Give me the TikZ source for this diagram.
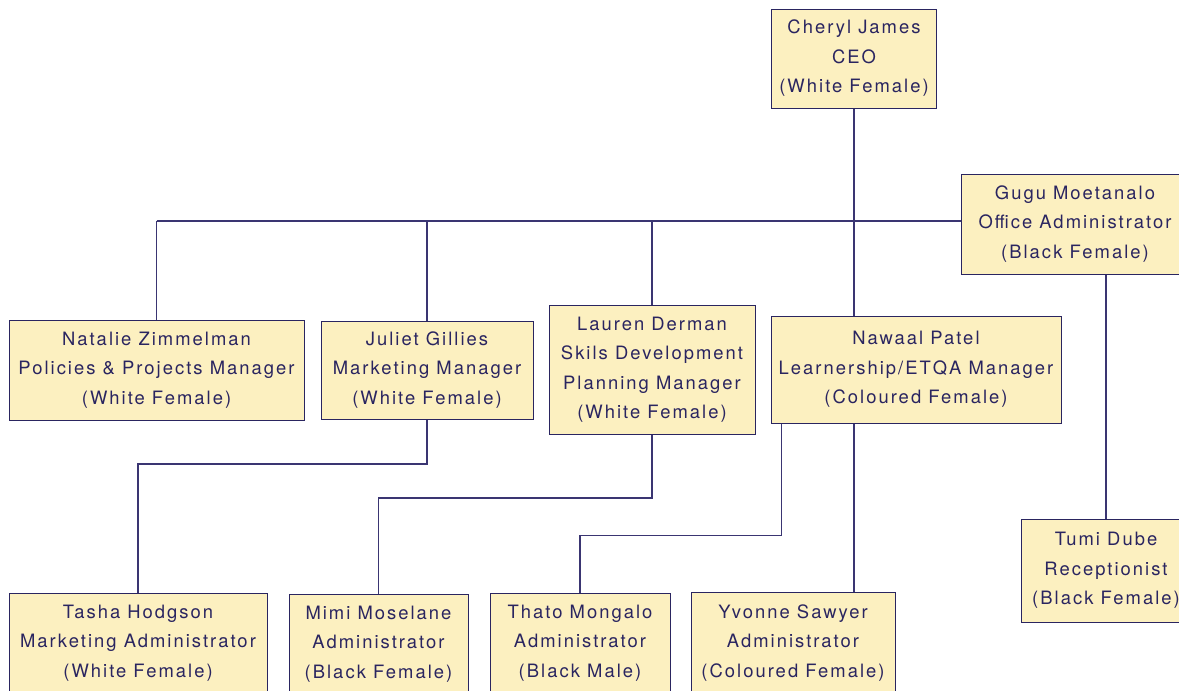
\documentclass[tikz,border=0pt]{standalone}
\usepackage{fontspec}
\setmainfont[LetterSpace=11]{TeX Gyre Heros}
\definecolor{boxfill}{HTML}{FCF0C0}
\definecolor{navy}{HTML}{2A2560}
\definecolor{linec}{HTML}{3A3572}
\begin{document}
\begin{tikzpicture}[x=1pt,y=-1pt,
  person/.style={draw=navy,fill=boxfill,line width=1pt,text=navy,align=center,
    inner sep=0pt,font=\fontsize{18.4}{29.5}\selectfont},
  conn/.style={draw=linec,line width=1.1pt}]
\useasboundingbox (0,0) rectangle (1179,691);
\node[person,minimum width=165,minimum height=99] (ceo) at (854,58.5) {Cheryl James\\CEO\\(White Female)};
\node[person,minimum width=228,minimum height=100] (gugu) at (1075,224) {Gugu Moetanalo\\Office Administrator\\(Black Female)};
\node[person,minimum width=295,minimum height=100] (nat) at (156.5,370) {Natalie Zimmelman\\Policies \& Projects Manager\\(White Female)};
\node[person,minimum width=212,minimum height=98] (jul) at (427,370) {Juliet Gillies\\Marketing Manager\\(White Female)};
\node[person,minimum width=206,minimum height=129] (lau) at (652,369.5) {Lauren Derman\\Skils Development\\Planning Manager\\(White Female)};
\node[person,minimum width=290,minimum height=107] (naw) at (916,369.5) {Nawaal Patel\\Learnership/ETQA Manager\\(Coloured Female)};
\node[person,minimum width=170,minimum height=103] (tumi) at (1106,570.5) {Tumi Dube\\Receptionist\\(Black Female)};
\node[person,minimum width=258,minimum height=100] (tasha) at (138,643) {Tasha Hodgson\\Marketing Administrator\\(White Female)};
\node[person,minimum width=179,minimum height=100] (mimi) at (378.5,644) {Mimi Moselane\\Administrator\\(Black Female)};
\node[person,minimum width=180,minimum height=100] (thato) at (580,643) {Thato Mongalo\\Administrator\\(Black Male)};
\node[person,minimum width=204,minimum height=102] (yv) at (793,643) {Yvonne Sawyer\\Administrator\\(Coloured Female)};
% CEO line
\draw[conn] (ceo.south) -- (ceo.south |- naw.north);
% bus
\coordinate (busy) at (961,221);
\draw[conn] (nat.north |- busy) -- (busy);
\draw[conn] (nat.north |- busy) -- (nat.north);
\draw[conn] (jul.north |- busy) -- (jul.north);
\draw[conn] (lau.north |- busy) -- (lau.north);
% lower connectors
\coordinate (j1) at (138,464);
\draw[conn] (jul.south) |- (j1) -- (tasha.north);
\coordinate (l1) at (378.5,498);
\draw[conn] (lau.south) |- (l1) -- (mimi.north);
\coordinate (n1) at (580,535.5);
\draw[conn] ([xshift=11]naw.south west) |- (n1) -- (thato.north);
\draw[conn] (naw.south -| ceo.south) -- (yv.north -| ceo.south);
\draw[conn] (gugu.south -| tumi.north) -- (tumi.north);
\end{tikzpicture}
\end{document}
